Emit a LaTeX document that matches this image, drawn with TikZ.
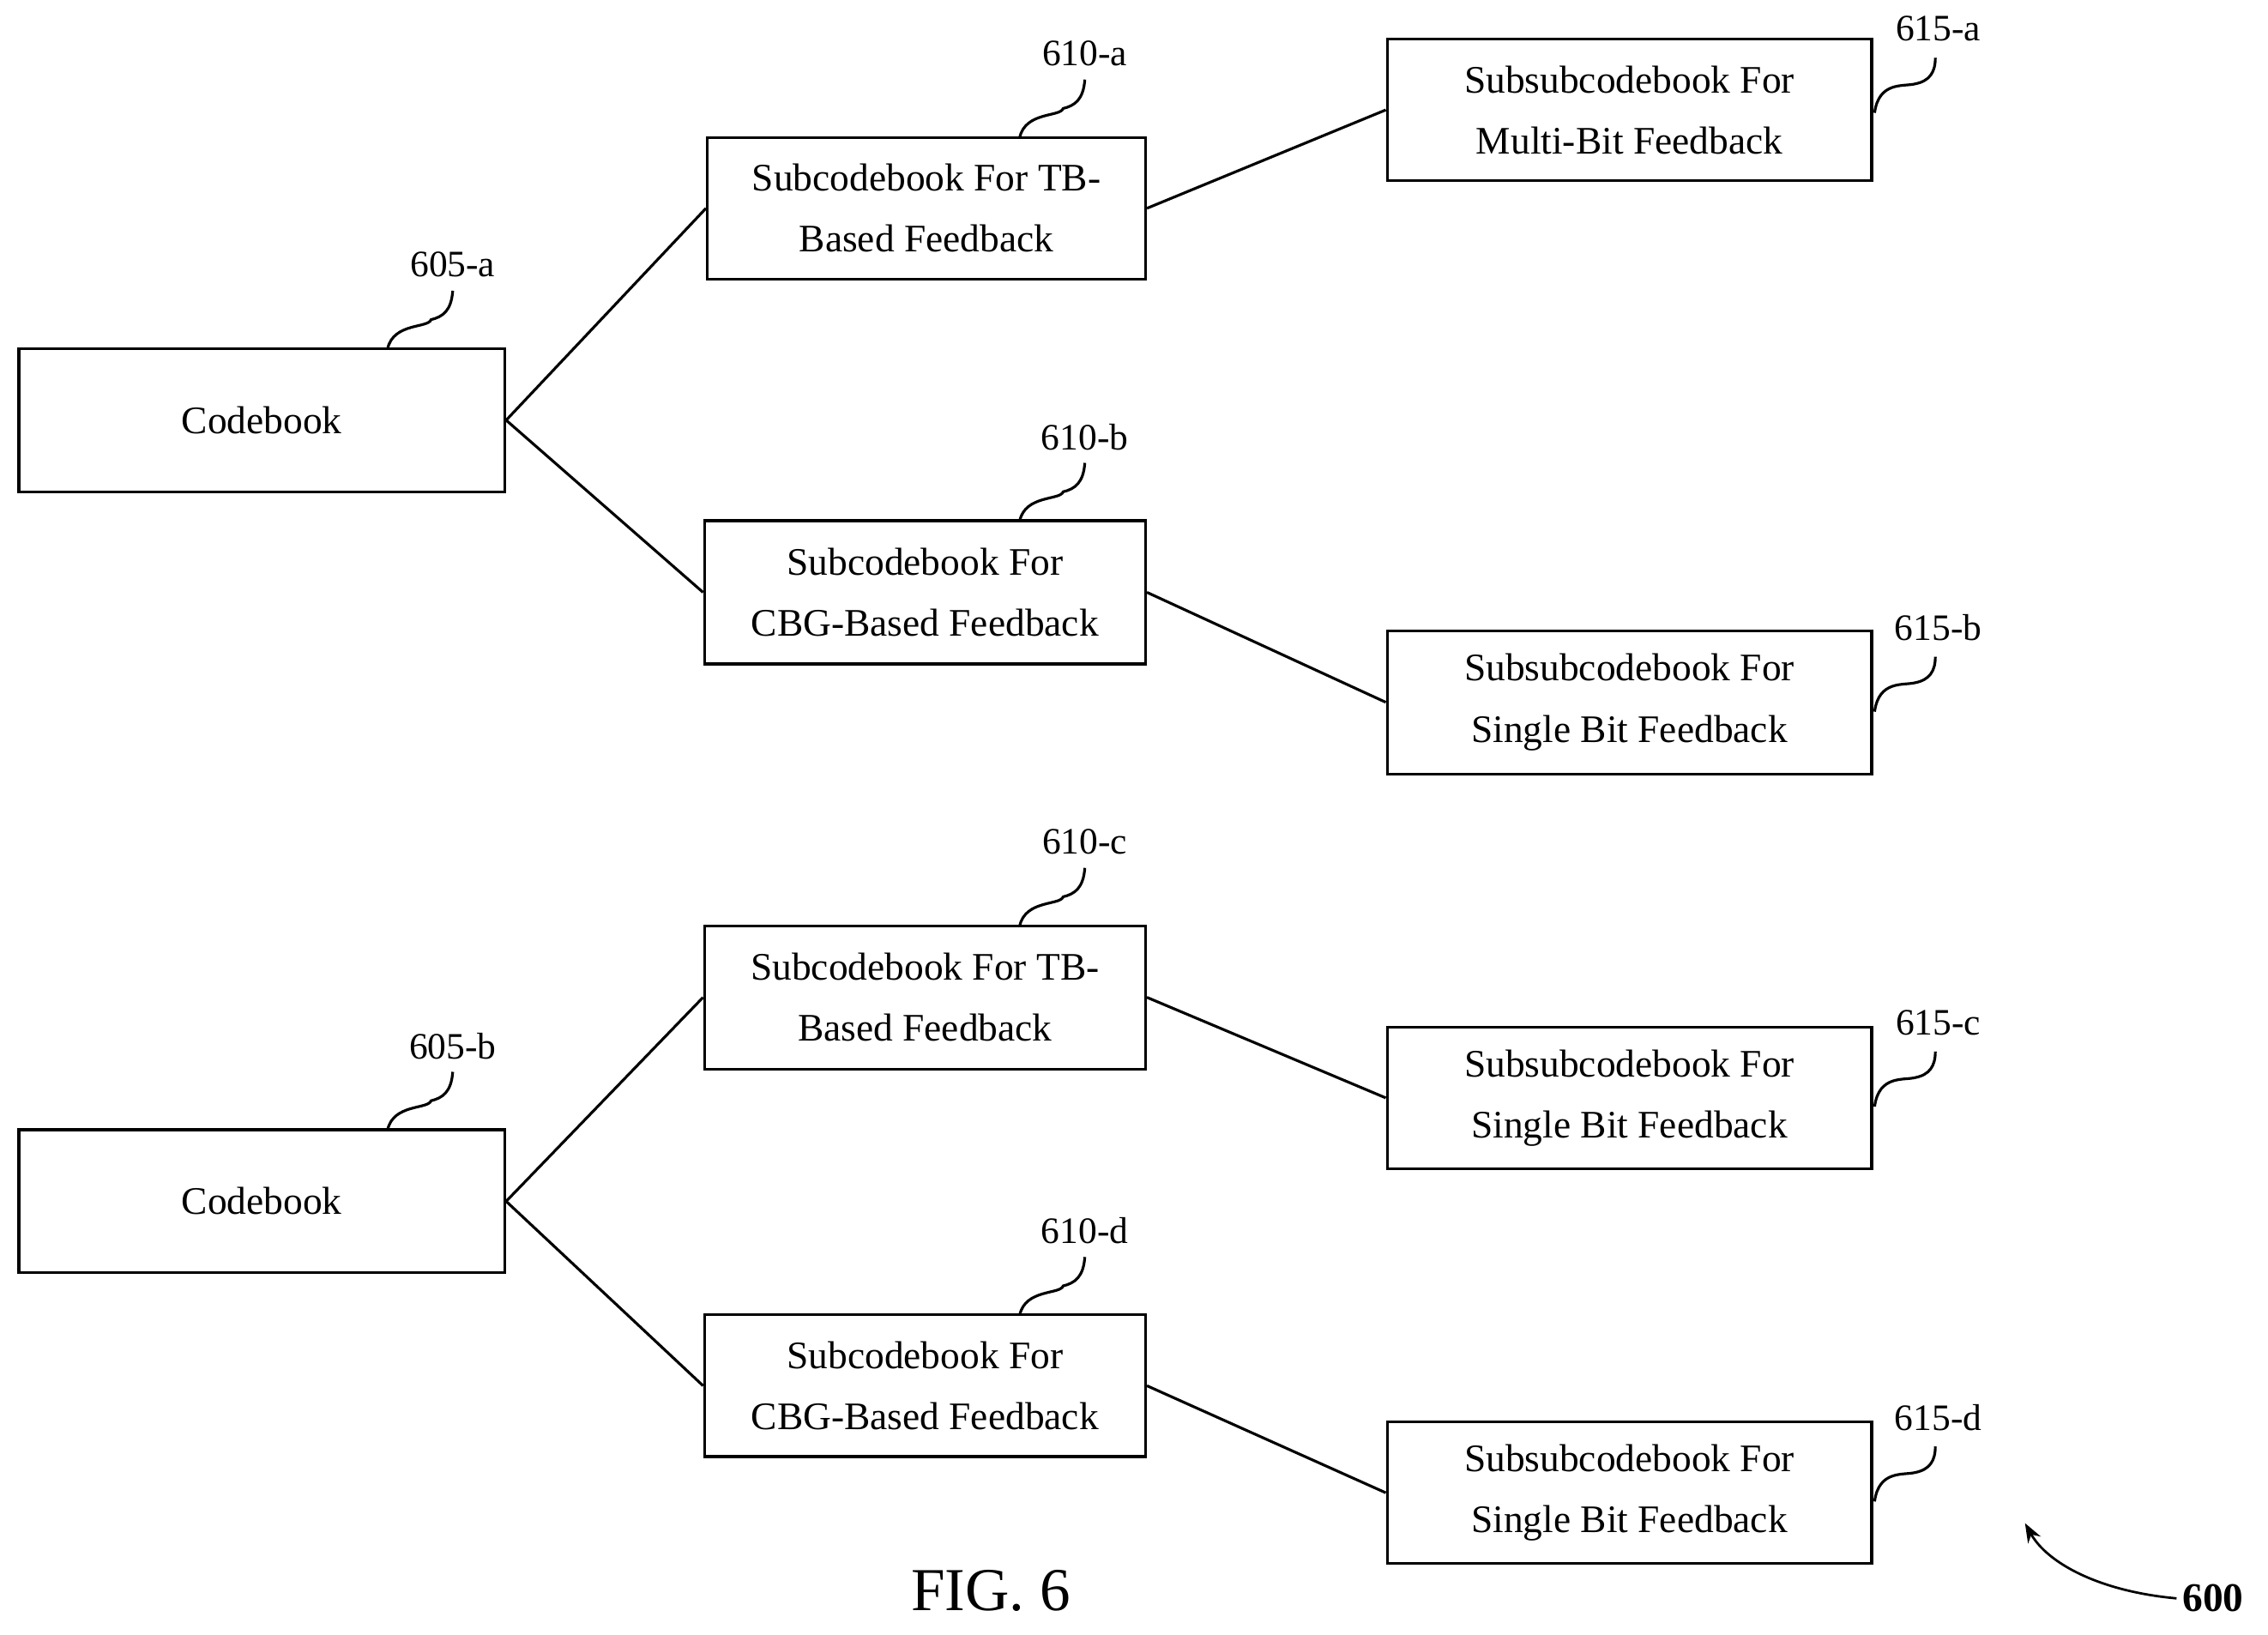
\documentclass[tikz,border=0pt]{standalone}
\usepackage{fontspec}
\setmainfont{Liberation Serif}
\usetikzlibrary{arrows.meta}
\begin{document}
\begin{tikzpicture}[x=0.3mm,y=-0.3mm,
 box/.style={draw,line width=1.6pt,inner sep=0pt,align=center,font=\fontsize{23}{36}\selectfont},
 lbl/.style={font=\fontsize{22}{26}\selectfont,inner sep=1pt},
 ln/.style={line width=1.6pt}]
\useasboundingbox (0,0) rectangle (1568,1130);
\newcommand\bx[6]{\node[box,minimum width={(#4-#2)*0.3mm},minimum height={(#5-#3)*0.3mm}] (#1) at ({(#2+#4)/2},{(#3+#5)/2}) {#6};}
\bx{ca}{13}{241}{349}{340}{Codebook}
\bx{ta}{489}{95}{792}{193}{Subcodebook For TB-\\Based Feedback}
\bx{tb}{487}{360}{792}{459}{Subcodebook For\\CBG-Based Feedback}
\bx{sa}{959}{27}{1294}{125}{Subsubcodebook For\\Multi-Bit Feedback}
\bx{sb}{959}{436}{1294}{535}{Subsubcodebook For\\Single Bit Feedback}
\bx{cb}{13}{781}{349}{880}{Codebook}
\bx{tc}{487}{640}{792}{739}{Subcodebook For TB-\\Based Feedback}
\bx{td}{487}{909}{792}{1007}{Subcodebook For\\CBG-Based Feedback}
\bx{sc}{959}{710}{1294}{808}{Subsubcodebook For\\Single Bit Feedback}
\bx{sd}{959}{983}{1294}{1081}{Subsubcodebook For\\Single Bit Feedback}
\foreach \a/\b in {ca/ta,ca/tb,ta/sa,tb/sb,cb/tc,cb/td,tc/sc,td/sd}
  \draw[ln] (\a.east) -- (\b.west);
% top labels
\foreach \n/\t/\bxn/\x/\y in {la/605-a/ca/268/241, lb/605-b/cb/268/781, lc/610-a/ta/705/95, ld/610-b/tb/705/360, le/610-c/tc/705/640, lf/610-d/td/705/909}{
  \node[lbl] (\n) at (\x+45,\y-58) {\t};
  \coordinate (\n s) at (\x,\y);
  \draw[ln] (\n s) .. controls (\x+4,\y-18) and (\x+28,\y-14) .. (\x+30,\y-20) .. controls (\x+38,\y-22) and (\x+44,\y-26) .. (\x+45,\y-40);
}
\foreach \n/\t/\x/\y in {ra/615-a/1296/78, rb/615-b/1296/492, rc/615-c/1296/765, rd/615-d/1296/1038}{
  \node[lbl] (\n) at (\x+44,\y-58) {\t};
  \coordinate (\n s) at (\x,\y);
  \draw[ln] (\n s) .. controls (\x+3,\y-22) and (\x+20,\y-18) .. (\x+28,\y-20) .. controls (\x+38,\y-22) and (\x+42,\y-28) .. (\x+42,\y-38);
}
\node[font=\fontsize{36}{40}\selectfont] (fig) at (685,1100) {FIG. 6};
\node[font=\bfseries\fontsize{24}{28}\selectfont] (n600) at (1530,1105) {600};
\coordinate (ah) at (1400,1053);
\draw[line width=1.4pt,-{Stealth[length=4mm]}] (n600.west) .. controls (1450,1100) and (1415,1080) .. (ah);
\end{tikzpicture}
\end{document}
